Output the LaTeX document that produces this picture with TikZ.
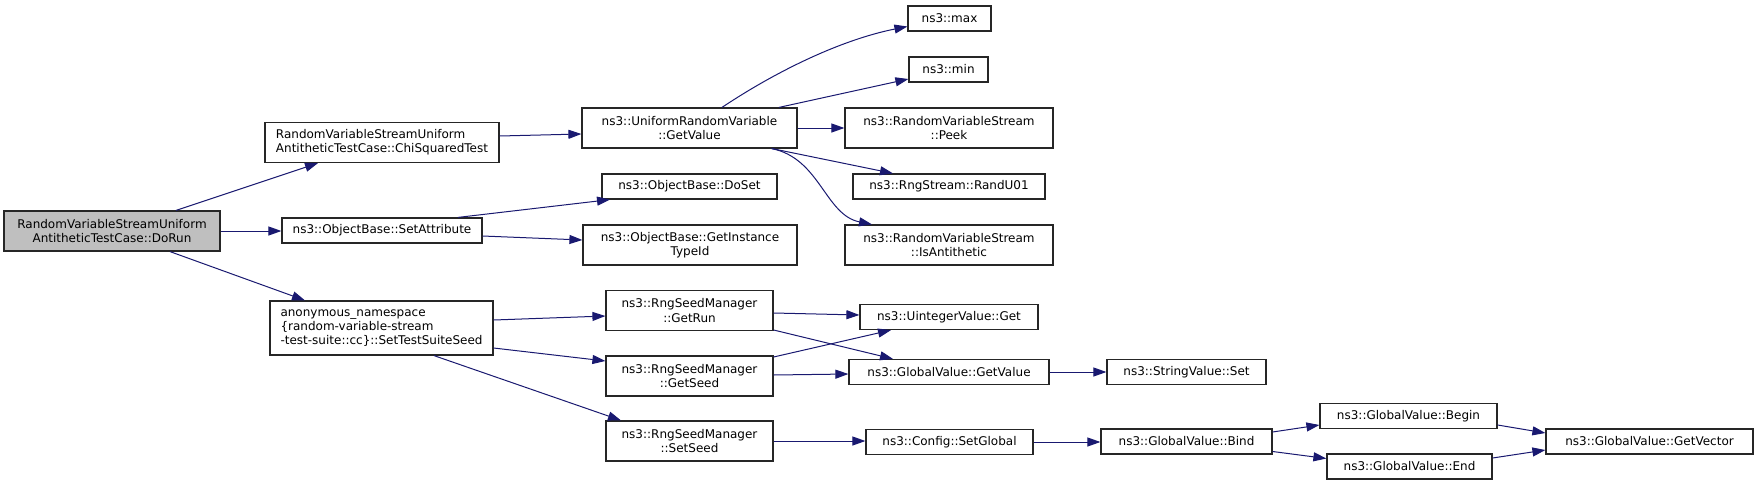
\documentclass[tikz,border=0pt]{standalone}
\usepackage{fontspec}
\setmainfont{DejaVu Sans}
\usetikzlibrary{arrows.meta}
\definecolor{edgeblue}{HTML}{191970}
\definecolor{rootgrey}{HTML}{BFBFBF}
\definecolor{boxline}{HTML}{262626}
\begin{document}
\begin{tikzpicture}[x=1pt,y=-1pt,
  box/.style={draw=boxline, line width=1.2pt, fill=white, inner sep=0pt, font=\fontsize{12}{14.3}\selectfont, align=center},
  root/.style={box, fill=rootgrey},
  call/.style={draw=edgeblue, line width=1pt, -{Triangle[length=13pt,width=9pt]}},
]
\useasboundingbox (0,0) rectangle (1755,485);
% nodes
\node[root, minimum width=216pt, minimum height=40pt] (dorun) at (112,231) {RandomVariableStreamUniform\\AntitheticTestCase::DoRun};
\node[box, align=left, minimum width=234pt, minimum height=40pt] (chi) at (382,142.5) {RandomVariableStreamUniform\\AntitheticTestCase::ChiSquaredTest};
\node[box, minimum width=200pt, minimum height=25pt] (setattr) at (382,230.5) {ns3::ObjectBase::SetAttribute};
\node[box, align=left, minimum width=223pt, minimum height=54pt] (tss) at (381.5,328) {anonymous\_namespace\\\{random-variable-stream\\-test-suite::cc\}::SetTestSuiteSeed};
\node[box, minimum width=83pt, minimum height=25pt] (max) at (949.5,18.5) {ns3::max};
\node[box, minimum width=79pt, minimum height=25pt] (min) at (948.5,69.5) {ns3::min};
\node[box, minimum width=215pt, minimum height=40pt] (urv) at (689.5,128) {ns3::UniformRandomVariable\\::GetValue};
\node[box, minimum width=208pt, minimum height=40pt] (peek) at (949,128) {ns3::RandomVariableStream\\::Peek};
\node[box, minimum width=192pt, minimum height=25pt] (randu) at (949,186.5) {ns3::RngStream::RandU01};
\node[box, minimum width=208pt, minimum height=40pt] (isanti) at (949,245) {ns3::RandomVariableStream\\::IsAntithetic};
\node[box, minimum width=175pt, minimum height=25pt] (doset) at (689.5,186.5) {ns3::ObjectBase::DoSet};
\node[box, minimum width=214pt, minimum height=40pt] (giti) at (690,245) {ns3::ObjectBase::GetInstance\\TypeId};
\node[box, minimum width=167pt, minimum height=40pt] (getrun) at (689.5,310.5) {ns3::RngSeedManager\\::GetRun};
\node[box, minimum width=167pt, minimum height=40pt] (getseed) at (689.5,376) {ns3::RngSeedManager\\::GetSeed};
\node[box, minimum width=167pt, minimum height=40pt] (setseed) at (689.5,441) {ns3::RngSeedManager\\::SetSeed};
\node[box, minimum width=178pt, minimum height=25pt] (uget) at (949,317) {ns3::UintegerValue::Get};
\node[box, minimum width=200pt, minimum height=25pt] (gvget) at (949,372) {ns3::GlobalValue::GetValue};
\node[box, minimum width=167pt, minimum height=25pt] (setglobal) at (949.5,442) {ns3::Config::SetGlobal};
\node[box, minimum width=159pt, minimum height=25pt] (strset) at (1186.5,372) {ns3::StringValue::Set};
\node[box, minimum width=171pt, minimum height=25pt] (bind) at (1186.5,441.5) {ns3::GlobalValue::Bind};
\node[box, minimum width=177pt, minimum height=25pt] (gvbegin) at (1408.5,416) {ns3::GlobalValue::Begin};
\node[box, minimum width=165pt, minimum height=25pt] (gvend) at (1409.5,466.5) {ns3::GlobalValue::End};
\node[box, minimum width=207pt, minimum height=25pt] (gvvec) at (1649.5,441.5) {ns3::GlobalValue::GetVector};
% edges
\draw[call] ([xshift=64pt]dorun.north) -- ([xshift=-64pt]chi.south);
\draw[call] (dorun.east) -- (dorun.east -| setattr.west);
\draw[call] ([xshift=58pt]dorun.south) -- ([xshift=-76.5pt]tss.north);
\draw[call] ([yshift=6.5pt]chi.east) -- ([yshift=-6pt]urv.west);
\draw[call] ([xshift=32.5pt]urv.north) .. controls (775,72) and (840,40) .. ([yshift=-8pt]max.west);
\draw[call] ([xshift=89.5pt]urv.north) -- ([yshift=-9.5pt]min.west);
\draw[call] (urv.east) -- (peek.west);
\draw[call] ([xshift=82.5pt]urv.south) -- ([xshift=-56pt]randu.north);
\draw[call] ([xshift=82pt]urv.south) .. controls (820,158) and (825,215) .. ([xshift=-77pt]isanti.north);
\draw[call] ([xshift=76pt]setattr.north) -- ([xshift=-79.5pt]doset.south);
\draw[call] ([yshift=-5.5pt]setattr.east) -- ([yshift=5pt]giti.west);
\draw[call] ([yshift=8pt]tss.east) -- ([yshift=-5.5pt]getrun.west);
\draw[call] ([yshift=-20pt]tss.east) -- ([yshift=15pt]getseed.west);
\draw[call] ([xshift=52.5pt]tss.south) -- ([xshift=-68.5pt]setseed.north);
\draw[call] ([yshift=-2.5pt]getrun.east) -- ([yshift=2pt]uget.west);
\draw[call] ([yshift=-19.5pt]getrun.east) -- ([xshift=-56pt]gvget.north);
\draw[call] ([yshift=19pt]getseed.east) -- ([xshift=-58pt]uget.south);
\draw[call] ([yshift=1pt]getseed.east) -- ([yshift=-2pt]gvget.west);
\draw[call] (setseed.east) -- (setseed.east -| setglobal.west);
\draw[call] (gvget.east) -- (strset.west);
\draw[call] (setglobal.east) -- (setglobal.east -| bind.west);
\draw[call] ([yshift=9.5pt]bind.east) -- ([yshift=-9pt]gvbegin.west);
\draw[call] ([yshift=-10pt]bind.east) -- ([yshift=8pt]gvend.west);
\draw[call] ([yshift=-9pt]gvbegin.east) -- ([yshift=8.5pt]gvvec.west);
\draw[call] ([yshift=8.5pt]gvend.east) -- ([yshift=-8.5pt]gvvec.west);
\end{tikzpicture}
\end{document}
